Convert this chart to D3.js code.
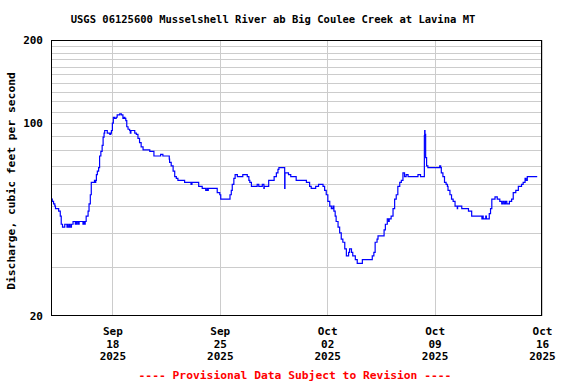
<!DOCTYPE html>
<html>
<head>
<meta charset="utf-8">
<script src="https://cdn.jsdelivr.net/npm/d3@7/dist/d3.min.js"></script>
<style>
  body { margin: 0; background: #fff; }
  text { font-family: "DejaVu Sans Mono", "Liberation Mono", monospace; font-weight: bold; }
</style>
</head>
<body>
<svg width="576" height="384"></svg>
<script>
// Discharge readings (2025)
var times = [
  "09-14 00:00","09-14 02:00","09-14 04:00","09-14 06:00","09-14 07:00","09-14 12:00","09-14 14:30","09-14 16:00",
  "09-14 18:00","09-14 21:30","09-15 01:00","09-15 02:00","09-15 03:00","09-15 05:00","09-15 06:00","09-15 08:00",
  "09-15 10:30","09-15 14:00","09-15 15:00","09-15 16:00","09-15 17:00","09-15 19:00","09-15 20:00","09-16 02:00",
  "09-16 03:00","09-16 04:00","09-16 05:30","09-16 07:00","09-16 10:00","09-16 11:30","09-16 13:30","09-16 15:00",
  "09-16 20:00","09-16 21:00","09-16 22:00","09-16 23:00","09-17 00:30","09-17 02:30","09-17 04:00","09-17 06:00",
  "09-17 08:00","09-17 09:30","09-17 11:00","09-17 12:00","09-17 16:00","09-17 20:00","09-17 21:30","09-17 22:30",
  "09-18 00:00","09-18 01:30","09-18 03:30","09-18 06:00","09-18 07:30","09-18 11:30","09-18 14:00","09-18 16:30",
  "09-18 18:30","09-18 19:30","09-18 21:00","09-18 22:30","09-19 00:30","09-19 03:00","09-19 04:00","09-19 05:00",
  "09-19 11:00","09-19 13:30","09-19 16:00","09-19 18:30","09-19 21:00","09-20 00:00","09-20 10:30","09-20 17:00",
  "09-21 03:30","09-21 07:00","09-21 17:00","09-21 17:30","09-21 20:00","09-21 23:00","09-22 01:30","09-22 04:00",
  "09-22 06:30","09-22 17:00","09-23 03:00","09-23 04:30","09-23 15:00","09-23 20:30","09-24 02:00","09-24 04:00",
  "09-24 05:00","09-24 06:00","09-24 20:00","09-25 00:00","09-25 01:30","09-25 16:00","09-25 18:00","09-25 19:30",
  "09-25 22:00","09-26 00:00","09-26 03:30","09-26 12:00","09-26 19:00","09-26 21:30","09-26 23:00","09-27 01:30",
  "09-27 10:30","09-27 13:00","09-27 18:30","09-27 21:00","09-27 21:30","09-28 04:30","09-28 13:00","09-28 16:30",
  "09-28 19:00","09-28 20:30","09-29 05:30","09-29 06:00","09-29 11:30","09-29 15:00","09-29 23:30","09-30 15:30",
  "09-30 20:30","09-30 23:00","10-01 06:00","10-01 10:30","10-01 17:30","10-01 20:00","10-01 22:30","10-02 01:00",
  "10-02 04:00","10-02 06:30","10-02 09:00","10-02 10:30","10-02 12:30","10-02 14:00","10-02 17:00","10-02 19:30",
  "10-02 22:00","10-03 00:30","10-03 03:30","10-03 06:00","10-03 09:30","10-03 11:00","10-03 14:00","10-03 16:00",
  "10-03 20:00","10-03 23:00","10-04 07:00","10-04 22:30","10-05 01:00","10-05 03:00","10-05 06:00","10-05 07:30",
  "10-05 17:00","10-05 19:00","10-05 22:00","10-06 00:00","10-06 01:00","10-06 04:00","10-06 07:00","10-06 09:30",
  "10-06 12:00","10-06 14:30","10-06 17:30","10-06 20:00","10-06 22:30","10-07 01:00","10-07 03:30","10-07 06:30",
  "10-07 22:00","10-08 02:00","10-08 08:00","10-08 08:30","10-08 09:00","10-08 10:00","10-08 11:30","10-08 13:30",
  "10-09 08:00","10-09 09:30","10-09 10:30","10-09 13:00","10-09 15:30","10-09 18:00","10-09 20:00","10-09 21:00",
  "10-10 00:00","10-10 02:30","10-10 05:00","10-10 08:00","10-10 11:30","10-10 12:00","10-10 18:30","10-11 05:00",
  "10-11 10:00","10-12 02:00","10-12 03:00","10-12 04:00","10-12 08:00","10-12 09:00","10-12 13:30","10-12 15:30",
  "10-12 17:30","10-12 22:30","10-13 02:00","10-13 06:00","10-13 09:00","10-13 11:00","10-13 13:00","10-13 15:00",
  "10-13 17:00","10-13 21:00","10-14 00:30","10-14 03:00","10-14 07:00","10-14 11:00","10-14 16:00","10-14 18:30",
  "10-14 21:30","10-14 23:00","10-15 01:00","10-15 16:30"
];
var flows = [
  53,52,51,50,49,48,46,43,
  42,43,42,43,42,43,42,43,
  44,43,44,43,44,43,44,43,
  44,43,44,46,48,51,55,61,
  62,61,62,65,67,69,76,79,
  83,89,92,94,92,91,92,94,
  100,105,104,105,107,108,107,104,
  105,104,102,97,95,94,92,94,
  92,91,88,85,82,80,79,76,
  77,76,74,72,70,67,64,63,
  62,61,60,61,59,58,57,58,
  57,58,56,55,53,55,57,60,
  63,65,64,65,64,62,61,59,
  60,59,60,58,59,62,64,66,
  68,69,58,66,65,64,62,61,
  59,58,59,60,59,57,55,52,
  50,49,50,48,46,44,42,40,
  38,37,35,33,34,35,34,33,
  32,31,32,33,34,37,38,39,
  41,43,45,44,45,46,49,53,
  55,59,61,62,66,64,65,64,
  65,64,90,94,91,75,70,69,
  70,69,66,64,61,60,59,57,
  55,53,52,50,49,50,49,48,
  46,45,46,45,46,45,47,49,
  53,54,53,52,51,52,51,52,
  51,52,53,56,57,59,60,61,
  63,62,64,64
];

var yGridValues = [30,40,50,60,70,80,90,100,110,120,130,140,150,160,170,180,190];
var yTickValues = [20,100,200];
var xTickDates = ["09-18","09-25","10-02","10-09","10-16"];
var xTickLines = [["Sep","18","2025"],["Sep","25","2025"],["Oct","02","2025"],["Oct","09","2025"],["Oct","16","2025"]];

var title = "USGS 06125600 Musselshell River ab Big Coulee Creek at Lavina MT";
var yLabel = "Discharge, cubic feet per second";
var note = "---- Provisional Data Subject to Revision ----";

var svg = d3.select("svg");
var plotLeft = 51, plotRight = 542, plotTop = 40, plotBottom = 316;

var parse = d3.utcParse("%Y-%m-%d %H:%M");
var data = times.map(function(t, i) { return { date: parse("2025-" + t), flow: flows[i] }; });

var x = d3.scaleUtc()
  .domain([parse("2025-09-14 00:00"), parse("2025-10-16 00:00")])
  .range([plotLeft, plotRight]);
var y = d3.scaleLog().domain([20, 200]).range([plotBottom, plotTop]);

// horizontal grid
svg.append("g")
  .attr("transform", "translate(" + plotLeft + ",0)")
  .call(d3.axisLeft(y).tickValues(yGridValues).tickSize(-(plotRight - plotLeft)).tickFormat(""))
  .call(function(g) {
    g.select(".domain").remove();
    g.selectAll("line").attr("stroke", "#cccccc").attr("shape-rendering", "crispEdges");
  });

// vertical grid
var tickDates = xTickDates.map(function(d) { return parse("2025-" + d + " 00:00"); });
svg.append("g")
  .attr("transform", "translate(0," + plotBottom + ")")
  .call(d3.axisBottom(x).tickValues(tickDates).tickSize(-(plotBottom - plotTop)).tickFormat(""))
  .call(function(g) {
    g.select(".domain").remove();
    g.selectAll("line").attr("stroke", "#cccccc").attr("shape-rendering", "crispEdges");
  });

// discharge line
var line = d3.line()
  .curve(d3.curveStepAfter)
  .x(function(d) { return x(d.date); })
  .y(function(d) { return y(d.flow); });

svg.append("path")
  .datum(data)
  .attr("fill", "none")
  .attr("stroke", "#0000ff")
  .attr("stroke-width", 1.2)
  .attr("d", line);

// frame
svg.append("rect")
  .attr("x", plotLeft + 0.5).attr("y", plotTop + 0.5)
  .attr("width", plotRight - plotLeft - 1).attr("height", plotBottom - plotTop - 1)
  .attr("fill", "none").attr("stroke", "#000").attr("stroke-width", 1);

// y tick labels
svg.append("g")
  .attr("transform", "translate(" + plotLeft + ",0)")
  .call(d3.axisLeft(y).tickValues(yTickValues).tickSize(0).tickPadding(8).tickFormat(d3.format("d")))
  .call(function(g) {
    g.select(".domain").remove();
    g.selectAll("text").attr("font-size", "11px").attr("fill", "#000")
      .style("font-family", "DejaVu Sans Mono").style("font-weight", "bold");
  });

// x tick labels, three lines each
var xl = svg.append("g")
  .attr("transform", "translate(0," + plotBottom + ")")
  .call(d3.axisBottom(x).tickValues(tickDates).tickSize(0).tickFormat(""));
xl.select(".domain").remove();
xl.selectAll(".tick").each(function(d, i) {
  var t = d3.select(this).append("text")
    .attr("text-anchor", "middle")
    .attr("fill", "#000")
    .attr("font-size", "11px");
  xTickLines[i].forEach(function(s, j) {
    t.append("tspan").attr("x", 0).attr("y", 19 + j * 12.5).text(s);
  });
});

svg.append("text")
  .attr("x", 273).attr("y", 23)
  .attr("text-anchor", "middle")
  .attr("font-size", "10.5px")
  .text(title);

svg.append("text")
  .attr("transform", "translate(15,181) rotate(-90)")
  .attr("text-anchor", "middle")
  .attr("font-size", "11.3px")
  .text(yLabel);

svg.append("text")
  .attr("x", 295).attr("y", 379)
  .attr("text-anchor", "middle")
  .attr("font-size", "11.3px")
  .attr("fill", "#ff0000")
  .text(note);
</script>
</body>
</html>
